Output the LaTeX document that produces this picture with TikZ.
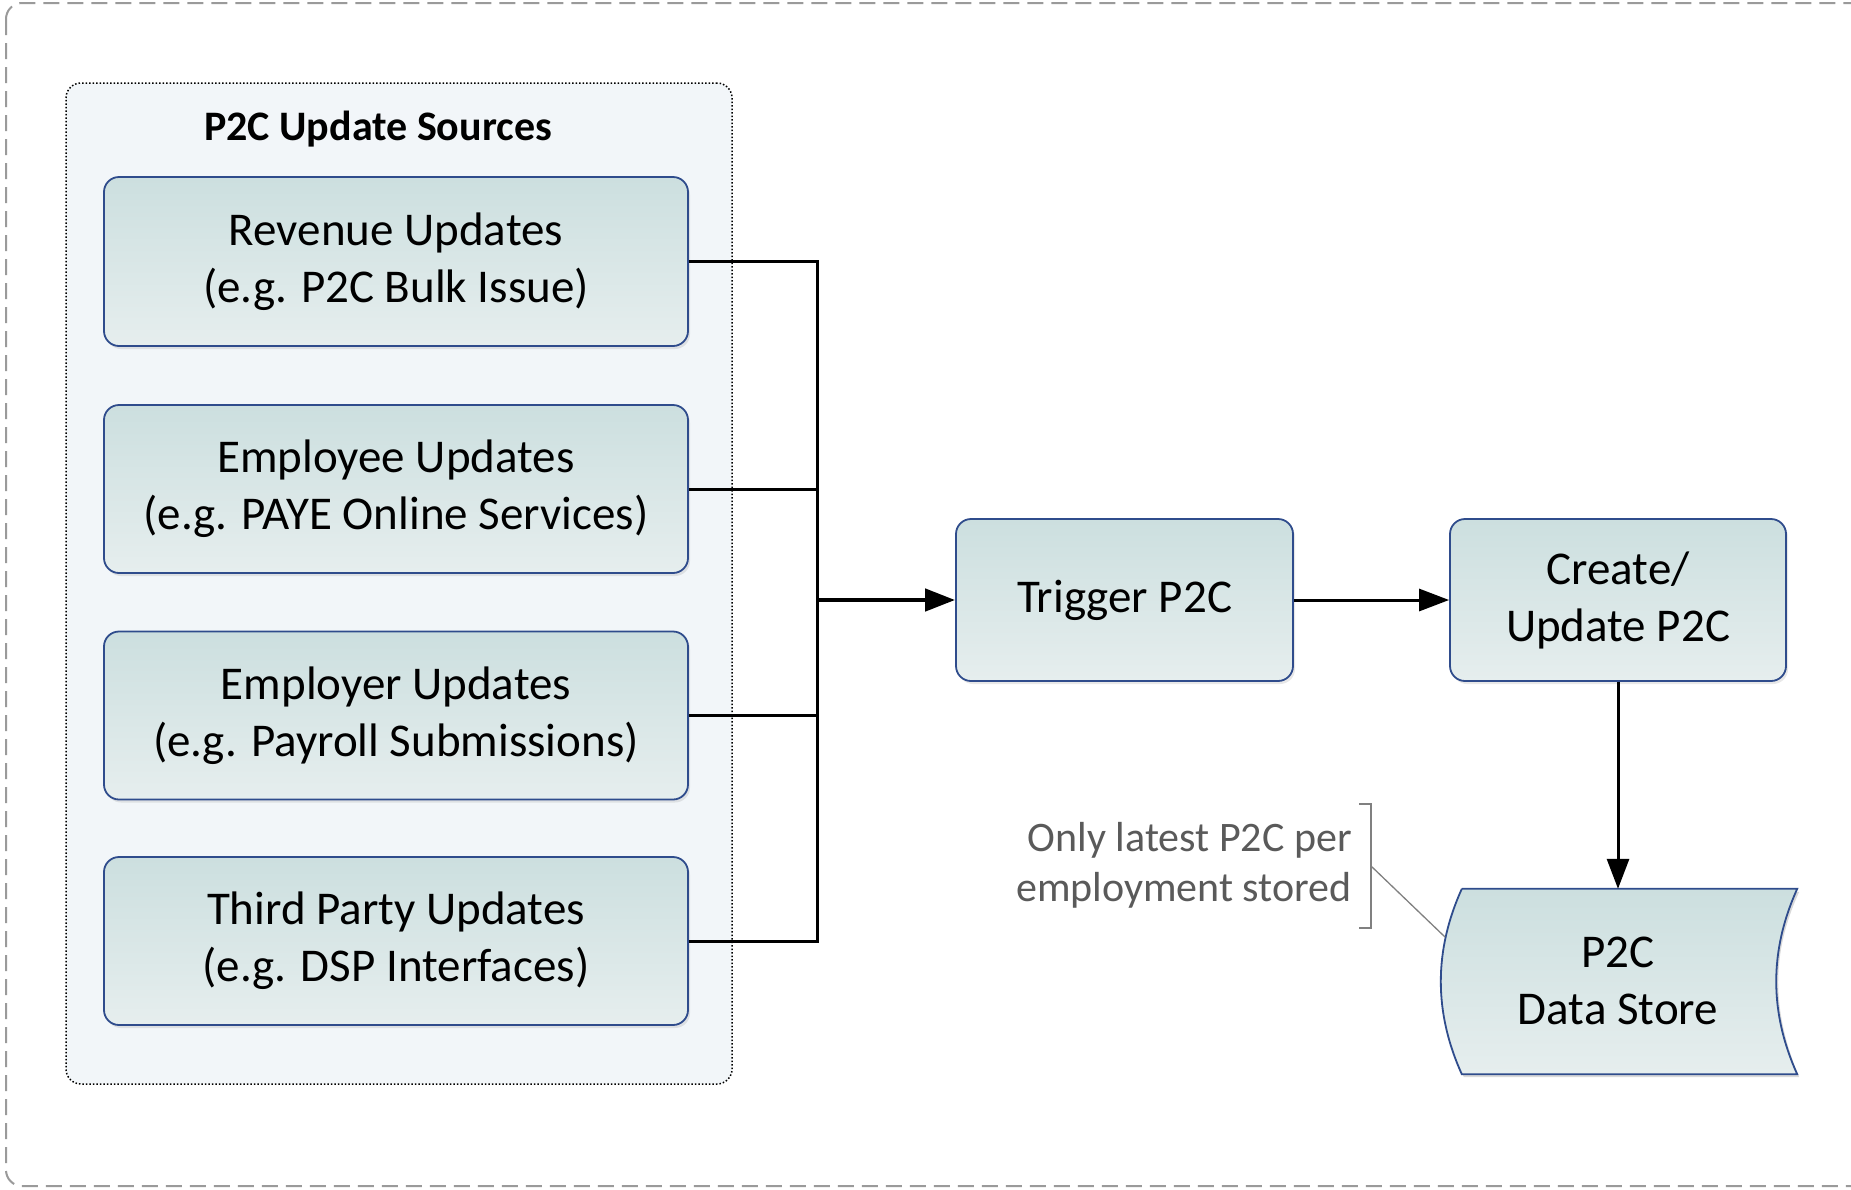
\documentclass[tikz,border=0pt]{standalone}
\usepackage{fontspec}
\setmainfont{Carlito}
\usetikzlibrary{arrows.meta,shadows}
\definecolor{boxtop}{HTML}{CCDFDF}
\definecolor{boxbot}{HTML}{E6EEEE}
\definecolor{boxline}{HTML}{2F4C8C}
\definecolor{grpfill}{HTML}{F2F6F9}
\definecolor{outline}{HTML}{9A9A9A}
\definecolor{notegray}{HTML}{5A5A5A}
\tikzset{
  procbox/.style={draw=boxline, line width=1.8pt, rounded corners=15pt,
    top color=boxtop, bottom color=boxbot, align=center,
    font=\fontsize{47}{57}\selectfont, inner sep=0pt,
    drop shadow={opacity=0.18, shadow xshift=2pt, shadow yshift=-3pt}},
  conn/.style={line width=3pt, black},
  tip/.style={-{Triangle[length=30pt,width=22pt]}},
}
\begin{document}
\begin{tikzpicture}[x=1pt,y=-1pt]
\useasboundingbox (0,0) rectangle (1851,1189);
% outer dashed frame
\draw[outline, line width=2pt, dash pattern=on 16pt off 8pt, rounded corners=16pt]
  (6,3) rectangle (1880,1186);
% group container
\node[draw=black, dotted, line width=1.5pt, fill=grpfill, rounded corners=15pt,
  minimum width=666pt, minimum height=1001pt, inner sep=0pt] (grp) at (399,583.5) {};
\node[font=\bfseries\fontsize{42}{50}\selectfont] (grptitle) at (378,129) {P2C Update Sources};
% source boxes
\node[procbox, minimum width=584pt, minimum height=169pt] (src1) at (396,261.5)
  {Revenue Updates\\(e.g. P2C Bulk Issue)};
\node[procbox, minimum width=584pt, minimum height=168pt] (src2) at (396,489)
  {Employee Updates\\(e.g. PAYE Online Services)};
\node[procbox, minimum width=584pt, minimum height=168pt] (src3) at (396,715.5)
  {Employer Updates\\(e.g. Payroll Submissions)};
\node[procbox, minimum width=584pt, minimum height=168pt] (src4) at (396,941)
  {Third Party Updates\\(e.g. DSP Interfaces)};
% process boxes
\node[procbox, minimum width=337pt, minimum height=162pt] (trig) at (1124.5,600)
  {Trigger P2C};
\node[procbox, minimum width=336pt, minimum height=162pt] (cup) at (1618,600)
  {Create/\\Update P2C};
% data store
\node[minimum width=335pt, minimum height=185pt, inner sep=0pt] (store) at (1629.5,981.5) {};
\fill[black, opacity=0.15] ([xshift=2pt,yshift=-3pt]store.north west) -- ([xshift=2pt,yshift=-3pt]store.north east)
  .. controls ([xshift=-26pt,yshift=-64pt]store.north east) and ([xshift=-26pt,yshift=64pt]store.south east) .. ([xshift=2pt,yshift=-3pt]store.south east)
  -- ([xshift=2pt,yshift=-3pt]store.south west)
  .. controls ([xshift=-26pt,yshift=64pt]store.south west) and ([xshift=-26pt,yshift=-64pt]store.north west) .. ([xshift=2pt,yshift=-3pt]store.north west);
\draw[boxline, line width=1.8pt, top color=boxtop, bottom color=boxbot]
  (store.north west) -- (store.north east)
  .. controls ([xshift=-28pt,yshift=-62pt]store.north east) and ([xshift=-28pt,yshift=62pt]store.south east) .. (store.south east)
  -- (store.south west)
  .. controls ([xshift=-28pt,yshift=62pt]store.south west) and ([xshift=-28pt,yshift=-62pt]store.north west) .. (store.north west);
\node[align=center, font=\fontsize{47}{57}\selectfont, inner sep=0pt] (storetext) at (1618,981) {P2C\\Data Store};
% connectors
\coordinate (bus) at (817,600);
\draw[conn] (src1.east) -| (bus);
\draw[conn] (src2.east) -| (bus);
\draw[conn] (src3.east) -| (bus);
\draw[conn] (src4.east) -| (bus);
\draw[conn, line width=4.5pt, tip] (bus) -- (trig.west);
\draw[conn, tip] (trig.east) -- (cup.west);
\draw[conn, tip] (cup.south) -- (cup.south |- store.north);
% annotation
\node[anchor=east, align=right, text=notegray, font=\fontsize{42}{50}\selectfont, inner sep=0pt]
  (note) at (1352,865) {Only latest P2C per\\employment stored};
\coordinate (brk) at (1371,866);
\coordinate (noteend) at (1445,937);
\draw[gray, line width=2pt] (1359,804) -- (1371,804) -- (1371,928) -- (1359,928);
\draw[gray, line width=1.3pt] (brk) -- (noteend);
\end{tikzpicture}
\end{document}
